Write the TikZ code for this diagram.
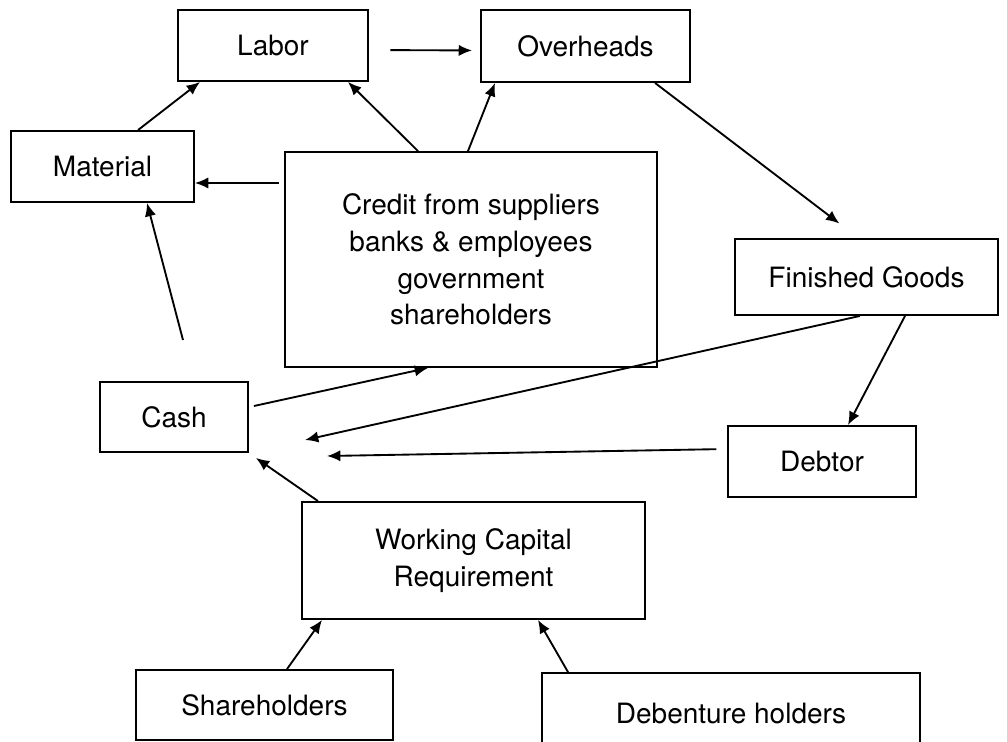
\documentclass[tikz,border=0pt]{standalone}
\usepackage{fontspec}
\setmainfont{TeX Gyre Heros}
\usepackage{tikz}
\usetikzlibrary{arrows.meta,calc}

\begin{document}
\begin{tikzpicture}[x=0.75pt,y=-0.75pt]
  \tikzstyle{Box}=[draw,line width=1.4pt,inner sep=0pt,align=center,
                   font=\fontsize{21}{27.5}\selectfont]
  \tikzstyle{Flow}=[line width=1.4pt,-{Latex[length=10pt,width=8.5pt]}]
  \clip (0,0) rectangle (1007,742);
  % boxes (sizes in px of the drawing, times 0.75pt)
  \node[Box,minimum width=190*0.75,minimum height=71*0.75] (Labor) at (273,45.5) {Labor};
  \node[Box,minimum width=209*0.75,minimum height=72*0.75] (Over) at (585.5,46) {Overheads};
  \node[Box,minimum width=183*0.75,minimum height=71*0.75] (Mat) at (102.5,166.5) {Material};
  \node[Box,minimum width=372*0.75,minimum height=215*0.75] (Credit) at (471,259.5)
    {Credit from suppliers\\banks \& employees\\government\\shareholders};
  \node[Box,minimum width=263*0.75,minimum height=76*0.75] (FG) at (866.5,277) {Finished Goods};
  \node[Box,minimum width=148*0.75,minimum height=70*0.75] (Cash) at (174,417) {Cash};
  \node[Box,minimum width=188*0.75,minimum height=71*0.75] (Debtor) at (822,461.5) {Debtor};
  \node[Box,minimum width=343*0.75,minimum height=117*0.75] (WCR) at (473.5,560.5)
    {Working Capital\\Requirement};
  \node[Box,minimum width=257*0.75,minimum height=70*0.75] (SH) at (264.5,705) {Shareholders};
  \node[Box,minimum width=378*0.75,minimum height=80*0.75] (DH) at (731,713) {Debenture holders};
  % loose ends
  \coordinate (MatIn) at (183,340);
  \coordinate (CashIn) at (305,440);
  \coordinate (DebtIn) at (327,456);
  % flows
  \draw[Flow] ($(Mat.north)+(35.5,0)$) -- ($(Labor.south)+(-73,0)$);
  \draw[Flow] ($(Credit.north)+(-53,0)$) -- ($(Labor.south)+(75,0)$);
  \draw[Flow] ($(Credit.north)+(-3,0)$) -- ($(Over.south)+(-90.5,0)$);
  \draw[Flow,shorten <=4pt] ($(Credit.west)+(0,-76.5)$) -- ($(Mat.east)+(0,16.5)$);
  \draw[Flow] (MatIn) -- ($(Mat.south)+(44.5,0)$);
  \draw[Flow,shorten <=16pt,shorten >=6pt] ($(Labor.east)+(0,4.5)$) -- ($(Over.west)+(0,4.5)$);
  \draw[Flow,shorten >=18pt] ($(Over.south)+(69.5,0)$) -- ($(FG.north)+(-8,0)$);
  \draw[Flow] ($(Cash.east)+(5,-11)$) -- ($(Credit.south)+(-43,0)$);
  \draw[Flow] ($(FG.south)+(-6.5,0)$) -- (CashIn);
  \draw[Flow] ($(FG.south)+(38.5,0)$) -- ($(Debtor.north)+(26,0)$);
  \draw[Flow,shorten <=8pt] ($(Debtor.west)+(0,-12.5)$) -- (DebtIn);
  \draw[Flow] ($(WCR.north)+(-155.5,0)$) -- ($(Cash.south east)+(7,5)$);
  \draw[Flow] ($(SH.north)+(22.5,0)$) -- ($(WCR.south)+(-151.5,0)$);
  \draw[Flow] ($(DH.north)+(-163,0)$) -- ($(WCR.south)+(64.5,0)$);
\end{tikzpicture}
\end{document}
